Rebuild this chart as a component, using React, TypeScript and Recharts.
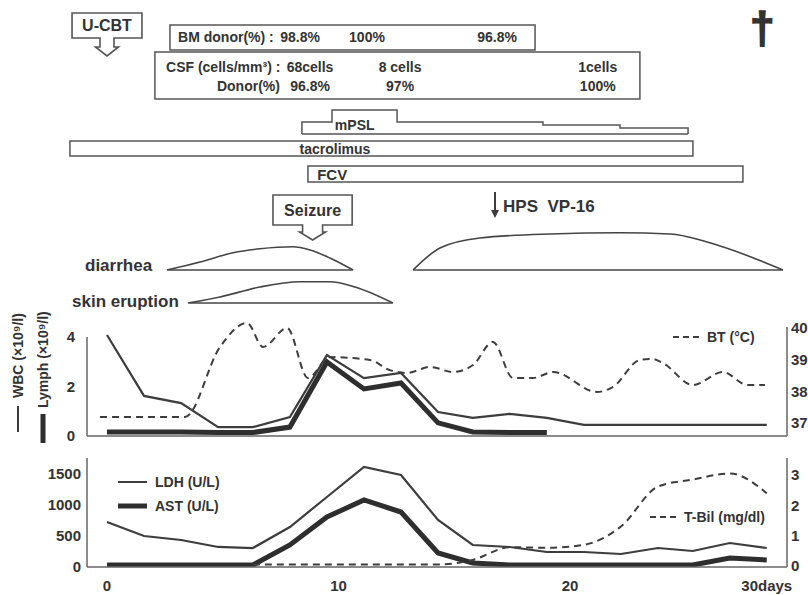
import React from "react";
import {
  Area,
  ComposedChart,
  Line,
  ReferenceArea,
  ReferenceLine,
  Scatter,
  XAxis,
  YAxis,
} from "recharts";

const FONT = "'Liberation Sans', Arial, sans-serif";
const INK = "#333";
const LINE = "#3d3d3d";
const BOX = "#555";

// lab draws, days after U-CBT
const labDays = [0, 1.6, 3.2, 4.8, 6.3, 7.9, 9.5, 11.1, 12.7, 14.3, 15.8, 17.4, 19.0, 20.6, 22.2, 23.8, 25.3, 26.9, 28.5];
const wbc = [4.08, 1.62, 1.33, 0.36, 0.36, 0.77, 3.27, 2.34, 2.55, 0.97, 0.73, 0.89, 0.73, 0.45, 0.45, 0.45, 0.45, 0.45, 0.45];
const lymph = [0.16, 0.16, 0.16, 0.14, 0.14, 0.36, 2.99, 1.9, 2.14, 0.53, 0.16, 0.14, 0.14];
const ldh = [726, 500, 435, 323, 306, 645, 1129, 1613, 1484, 758, 355, 323, 242, 242, 210, 306, 258, 387, 306];
const ast = [32, 32, 32, 32, 32, 355, 806, 1081, 887, 226, 65, 32, 32, 32, 32, 32, 32, 145, 113];
const tbil = [null, null, null, null, 0.05, 0.05, 0.05, 0.05, 0.05, 0.05, 0.2, 0.62, 0.6, 0.7, 1.3, 2.62, 2.85, 3.05, 2.4];

// body temperature
const btDays = [-0.3, 3.37, 4.88, 6.05, 6.74, 7.78, 8.68, 9.63, 11.36, 12.22, 12.96, 13.95, 14.95, 15.81, 16.67, 17.54, 18.4, 19.27, 21.17, 21.86, 23.02, 23.59, 24.02, 25.31, 26.61, 27.65, 28.42];
const bt = [37.19, 37.19, 39.4, 40.16, 39.4, 40.0, 38.42, 39.08, 38.99, 38.67, 38.58, 38.77, 38.61, 38.83, 39.56, 38.42, 38.42, 38.61, 37.98, 38.14, 38.99, 39.02, 38.89, 38.2, 38.61, 38.2, 38.2];

// chimerism / CSF
const bmDays = [8.34, 11.23, 16.85];
const bmDonor = ["98.8%", "100%", "96.8%"];
const csfDays = [8.77, 12.66, 21.2];
const csfCells = ["68cells", "8 cells", "1cells"];
const csfDonor = ["96.8%", "97%", "100%"];

// drugs
const drugNames = ["tacrolimus", "FCV"];
const drugStart = [-1.6, 8.68];
const drugEnd = [25.31, 27.47];
const mpslDays = [8.42, 8.42, 9.72, 12.53, 18.83, 22.16, 25.1, 25.1];
const mpslDose = [0, 1, 2, 1, 0.75, 0.5, 0.5, 0];

// symptoms (relative intensity)
const diarrhea1Days = [2.59, 4.02, 5.44, 6.61, 8.03, 8.77, 9.63, 10.63];
const diarrhea1 = [0, 0.2, 0.43, 0.53, 0.58, 0.5, 0.3, 0];
const diarrhea2Days = [13.22, 14.38, 16.11, 19.14, 22.16, 24.32, 26.48, 29.2];
const diarrhea2 = [0, 0.55, 0.8, 0.9, 0.93, 0.9, 0.6, 0];
const skinDays = [3.5, 4.88, 6.61, 8.34, 9.63, 10.71, 12.35];
const skin = [0, 0.15, 0.4, 0.53, 0.53, 0.4, 0];

// events
const ucbtDay = 0;
const seizureDay = 8.88;
const hpsDay = 16.76;
const deathDay = 28.3;

const xTicks = [0, 10, 20, 28.5];
const xTickLabels = ["0", "10", "20", "30days"];

// x scale: day 0 at 107px, 23.15px per day
const PX_DAY = 23.15;
const X0 = 107;
const fullDomain = [-X0 / PX_DAY, (808 - X0) / PX_DAY];
const plotDomain = [(87 - X0) / PX_DAY, (787 - X0) / PX_DAY];

const tickStyle = { fill: INK, fontSize: 15, fontWeight: "bold", fontFamily: FONT };
const axisStyle = { stroke: "#666", strokeWidth: 1.5 };

const labRows = labDays.map((d, i) => ({
  day: d,
  wbc: wbc[i],
  lymph: lymph[i] ?? null,
  ldh: ldh[i],
  ast: ast[i],
  tbil: tbil[i],
}));
const btRows = btDays.map((d, i) => ({ day: d, bt: bt[i] }));
const mpslRows = mpslDays.map((d, i) => ({ day: d, dose: mpslDose[i] }));
const diarrheaRows = [
  ...diarrhea1Days.map((d, i) => ({ day: d, a: diarrhea1[i] })),
  ...diarrhea2Days.map((d, i) => ({ day: d, b: diarrhea2[i] })),
];
const skinRows = skinDays.map((d, i) => ({ day: d, a: skin[i] }));

const topTexts = [
  { day: 3.07, row: 37, text: "BM donor(%) :", anchor: "start", size: 14 },
  ...bmDays.map((d, i) => ({ day: d, row: 37, text: bmDonor[i], anchor: "middle", size: 14 })),
  { day: 2.55, row: 67, text: "CSF (cells/mm³) :", anchor: "start", size: 14 },
  ...csfDays.map((d, i) => ({ day: d, row: 67, text: csfCells[i], anchor: "middle", size: 14 })),
  { day: 4.75, row: 86, text: "Donor(%)", anchor: "start", size: 14 },
  ...csfDays.map((d, i) => ({ day: d, row: 86, text: csfDonor[i], anchor: "middle", size: 14 })),
  { day: 10.7, row: 125, text: "mPSL", anchor: "middle", size: 14 },
  { day: 9.85, row: 149, text: drugNames[0], anchor: "middle", size: 14 },
  { day: drugStart[1] + 0.4, row: 174, text: drugNames[1], anchor: "start", size: 15 },
  { day: hpsDay + 0.35, row: 206, text: "HPS\u00a0\u00a0VP-16", anchor: "start", size: 17 },
  { day: -0.95, row: 265, text: "diarrhea", anchor: "start", size: 17 },
  { day: -1.51, row: 301, text: "skin eruption", anchor: "start", size: 17 },
  { day: deathDay, row: 27, text: "\u2020", anchor: "middle", size: 44, heavy: true },
];

function callout(p: any, label: string, stem: number, head: number, stemLen: number, headLen: number) {
  const { x, y, width, height } = p;
  const cx = x + width / 2;
  const b = y + height;
  const d =
    `M ${cx - stem} ${b} H ${x} V ${y} H ${x + width} V ${b} H ${cx + stem} ` +
    `V ${b + stemLen} H ${cx + head} L ${cx} ${b + stemLen + headLen} L ${cx - head} ${b + stemLen} H ${cx - stem} Z`;
  return (
    <g>
      <path d={d} fill="none" stroke={BOX} strokeWidth={1.6} />
      <text x={cx} y={y + height / 2} textAnchor="middle" dominantBaseline="central" fontSize={16} fontWeight="bold" fontFamily={FONT} fill={INK}>
        {label}
      </text>
    </g>
  );
}

function TopPanel() {
  return (
    <ComposedChart width={808} height={310} margin={{ top: 0, right: 0, bottom: 0, left: 0 }}>
      <XAxis type="number" dataKey="day" domain={fullDomain} allowDataOverflow hide />
      <YAxis type="number" dataKey="row" domain={[0, 310]} allowDataOverflow reversed hide />
      <ReferenceArea x1={ucbtDay - 1.51} x2={ucbtDay + 1.51} y1={13} y2={38} ifOverflow="visible"
        shape={(p: any) => callout(p, "U-CBT", 7, 11.5, 9, 9)} />
      <ReferenceArea x1={2.72} x2={18.49} y1={25} y2={50} fill="none" stroke={BOX} strokeWidth={1.5} ifOverflow="visible" />
      <ReferenceArea x1={2.07} x2={23.02} y1={52} y2={99} fill="none" stroke={BOX} strokeWidth={1.5} ifOverflow="visible" />
      <ReferenceArea x1={drugStart[0]} x2={drugEnd[0]} y1={141} y2={156} fill="none" stroke={BOX} strokeWidth={1.5} ifOverflow="visible" />
      <ReferenceArea x1={drugStart[1]} x2={drugEnd[1]} y1={166} y2={182} fill="none" stroke={BOX} strokeWidth={1.5} ifOverflow="visible" />
      <ReferenceArea x1={seizureDay - 1.71} x2={seizureDay + 1.71} y1={195} y2={225} ifOverflow="visible"
        shape={(p: any) => callout(p, "Seizure", 10, 13, 7, 8)} />
      <Scatter
        data={[{ day: hpsDay, row: 192 }]}
        isAnimationActive={false}
        shape={(p: any) => (
          <g>
            <line x1={p.cx} y1={p.cy} x2={p.cx} y2={p.cy + 20} stroke={LINE} strokeWidth={2} />
            <path d={`M ${p.cx - 4} ${p.cy + 18} L ${p.cx + 4} ${p.cy + 18} L ${p.cx} ${p.cy + 26} Z`} fill={LINE} />
          </g>
        )}
      />
      <Scatter
        data={topTexts}
        isAnimationActive={false}
        shape={(p: any) => (
          <text x={p.cx} y={p.cy} textAnchor={p.payload.anchor} dominantBaseline="central"
            fontSize={p.payload.size} fontWeight="bold" fontFamily={FONT} fill={INK}
            stroke={p.payload.heavy ? INK : "none"} strokeWidth={p.payload.heavy ? 1.5 : 0}>
            {p.payload.text}
          </text>
        )}
      />
    </ComposedChart>
  );
}

function MpslPanel() {
  return (
    <ComposedChart width={808} height={40} data={mpslRows} margin={{ top: 0, right: 0, bottom: 6, left: 0 }}>
      <XAxis type="number" dataKey="day" domain={fullDomain} allowDataOverflow hide />
      <YAxis type="number" domain={[0, 2.833]} allowDataOverflow hide />
      <Area type="stepAfter" dataKey="dose" stroke={BOX} strokeWidth={1.5} fill="none" isAnimationActive={false} dot={false} activeDot={false} />
      <ReferenceLine segment={[{ x: mpslDays[0], y: 0 }, { x: mpslDays[mpslDays.length - 1], y: 0 }]} stroke={BOX} strokeWidth={1.5} />
    </ComposedChart>
  );
}

function SymptomPanel({ rows, height, top, keys, spans }: any) {
  return (
    <ComposedChart width={808} height={height} data={rows} margin={{ top: 0, right: 0, bottom: 5, left: 0 }}>
      <XAxis type="number" dataKey="day" domain={fullDomain} allowDataOverflow hide />
      <YAxis type="number" domain={[0, top]} allowDataOverflow hide />
      {keys.map((k: string) => (
        <Area key={k} type="monotone" dataKey={k} stroke="#444" strokeWidth={1.6} fill="none"
          isAnimationActive={false} dot={false} activeDot={false} />
      ))}
      {spans.map((s: number[], i: number) => (
        <ReferenceLine key={i} segment={[{ x: s[0], y: 0 }, { x: s[1], y: 0 }]} stroke="#444" strokeWidth={1.6} />
      ))}
    </ComposedChart>
  );
}

function BloodPanel() {
  return (
    <ComposedChart width={808} height={135} margin={{ top: 12, right: 0, bottom: 0, left: 0 }}>
      <XAxis type="number" dataKey="day" domain={plotDomain} allowDataOverflow height={9} tick={false} tickLine={false} axisLine={axisStyle} />
      <YAxis yAxisId="l" type="number" width={87} domain={[0, 4.606]} allowDataOverflow ticks={[0, 2, 4]}
        tickLine={false} tickSize={2} tickMargin={10} axisLine={false} tick={tickStyle} />
      <YAxis yAxisId="r" orientation="right" type="number" width={21} domain={[36.589, 40.189]} allowDataOverflow ticks={[37, 38, 39, 40]}
        tickLine={false} tickSize={2} tickMargin={2} axisLine={false} tick={tickStyle} />
      <ReferenceLine yAxisId="l" segment={[{ x: plotDomain[0], y: 0 }, { x: plotDomain[0], y: 4 }]} {...axisStyle} />
      <ReferenceLine yAxisId="r" segment={[{ x: plotDomain[1], y: 36.589 }, { x: plotDomain[1], y: 40.03 }]} {...axisStyle} />
      <Line yAxisId="l" data={labRows} dataKey="lymph" stroke="#2e2e2e" strokeWidth={5} dot={false} activeDot={false} isAnimationActive={false} />
      <Line yAxisId="l" data={labRows} dataKey="wbc" stroke={LINE} strokeWidth={2.2} dot={false} activeDot={false} isAnimationActive={false} />
      <Line yAxisId="r" data={btRows} dataKey="bt" type="monotone" stroke={LINE} strokeWidth={2} strokeDasharray="7 5" dot={false} activeDot={false} isAnimationActive={false} />
    </ComposedChart>
  );
}

function ChemPanel() {
  return (
    <ComposedChart width={808} height={155} margin={{ top: 18, right: 0, bottom: 0, left: 0 }}>
      <XAxis type="number" dataKey="day" domain={plotDomain} allowDataOverflow ticks={xTicks} interval={0}
        tickFormatter={(v: number) => xTickLabels[xTicks.indexOf(v)] ?? String(v)}
        height={28} tickLine={false} tickSize={4} tickMargin={9} axisLine={axisStyle} tick={tickStyle} />
      <YAxis yAxisId="l" type="number" width={87} domain={[0, 1758]} allowDataOverflow ticks={[0, 500, 1000, 1500]}
        tickLine={false} tickSize={2} tickMargin={4} axisLine={axisStyle} tick={tickStyle} />
      <YAxis yAxisId="r" orientation="right" type="number" width={21} domain={[-0.033, 3.561]} allowDataOverflow ticks={[0, 1, 2, 3]}
        tickLine={false} tickSize={2} tickMargin={2} axisLine={axisStyle} tick={tickStyle} />
      <Line yAxisId="l" data={labRows} dataKey="ast" stroke="#2e2e2e" strokeWidth={5} dot={false} activeDot={false} isAnimationActive={false} />
      <Line yAxisId="l" data={labRows} dataKey="ldh" stroke={LINE} strokeWidth={2.2} dot={false} activeDot={false} isAnimationActive={false} />
      <Line yAxisId="r" data={labRows} dataKey="tbil" type="monotone" stroke={LINE} strokeWidth={2} strokeDasharray="7 5" dot={false} activeDot={false} isAnimationActive={false} />
    </ComposedChart>
  );
}

function Overlay() {
  const t = { fontFamily: FONT, fontWeight: "bold" as const, fill: INK, fontSize: 14 };
  return (
    <svg width={808} height={595} style={{ position: "absolute", left: 0, top: 0, pointerEvents: "none" }}>
      <line x1={18} y1={406} x2={18} y2={432} stroke={LINE} strokeWidth={2} />
      <text {...t} transform="translate(18 398) rotate(-90)" dominantBaseline="central">WBC (×10⁹/l)</text>
      <line x1={43} y1={414} x2={43} y2={443} stroke="#2e2e2e" strokeWidth={5} />
      <text {...t} transform="translate(43 408) rotate(-90)" dominantBaseline="central">Lymph (×10⁹/l)</text>

      <line x1={673} y1={337} x2={701} y2={337} stroke={LINE} strokeWidth={2} strokeDasharray="6 4" />
      <text {...t} x={707} y={337} dominantBaseline="central">BT (°C)</text>

      <line x1={118} y1={482} x2={147} y2={482} stroke={LINE} strokeWidth={2} />
      <text {...t} x={155} y={482} dominantBaseline="central">LDH (U/L)</text>
      <line x1={118} y1={506} x2={147} y2={506} stroke="#2e2e2e" strokeWidth={5} />
      <text {...t} x={155} y={506} dominantBaseline="central">AST (U/L)</text>

      <line x1={650} y1={517} x2={679} y2={517} stroke={LINE} strokeWidth={2} strokeDasharray="6 4" />
      <text {...t} x={684} y={517} dominantBaseline="central">T-Bil (mg/dl)</text>
    </svg>
  );
}

export default function App() {
  const at = (top: number): React.CSSProperties => ({ position: "absolute", left: 0, top });
  return (
    <div style={{ position: "relative", width: 808, height: 595, background: "#fff", overflow: "hidden" }}>
      <style>{`body{margin:0}`}</style>
      <div style={at(0)}><TopPanel /></div>
      <div style={at(100)}><MpslPanel /></div>
      <div style={at(225)}>
        <SymptomPanel rows={diarrheaRows} height={50} top={1.125} keys={["a", "b"]}
          spans={[[diarrhea1Days[0], diarrhea1Days[diarrhea1Days.length - 1]], [diarrhea2Days[0], diarrhea2Days[diarrhea2Days.length - 1]]]} />
      </div>
      <div style={at(275)}>
        <SymptomPanel rows={skinRows} height={33} top={0.7} keys={["a"]}
          spans={[[skinDays[0], skinDays[skinDays.length - 1]]]} />
      </div>
      <div style={at(310)}><BloodPanel /></div>
      <div style={at(440)}><ChemPanel /></div>
      <Overlay />
    </div>
  );
}
